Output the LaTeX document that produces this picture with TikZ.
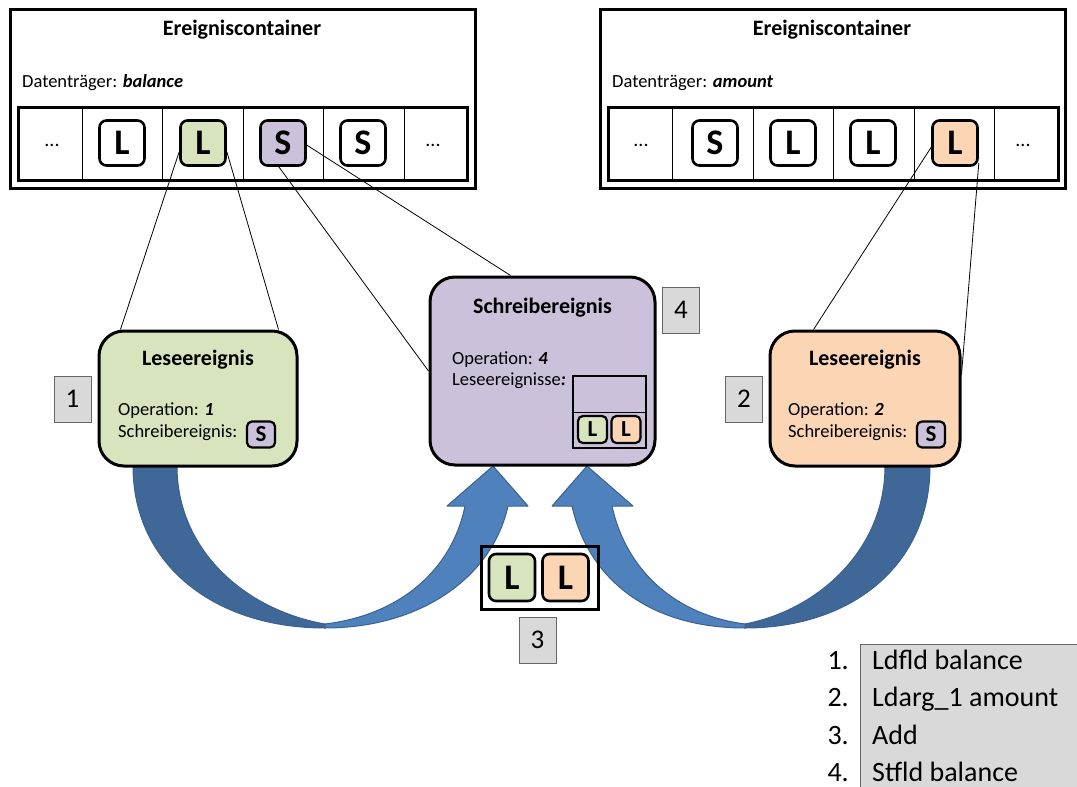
\documentclass[tikz,border=0pt]{standalone}
\usepackage{fontspec}
\setmainfont{Carlito}
\usetikzlibrary{calc}
\definecolor{grn}{HTML}{D7E4BD}
\definecolor{org}{HTML}{FCD5B5}
\definecolor{pur}{HTML}{CCC1DA}
\definecolor{lgray}{HTML}{D9D9D9}
\definecolor{alight}{HTML}{4F81BD}
\definecolor{adark}{HTML}{3F6797}
\definecolor{aline}{HTML}{3A6190}
\tikzset{
  lbl/.style={draw=black!60, fill=lgray, line width=0.8pt, minimum width=37pt, minimum height=46pt, inner sep=0pt, font=\fontsize{27}{27}\selectfont},
  ev/.style={draw, line width=2.6pt, rounded corners=7pt, minimum width=45pt, minimum height=45pt, inner sep=0pt, font=\fontsize{36}{36}\selectfont\bfseries},
  sev/.style={draw, line width=2.2pt, rounded corners=5pt, minimum width=28pt, minimum height=26pt, inner sep=0pt, font=\fontsize{23}{23}\selectfont\bfseries},
  bigbox/.style={draw, line width=3pt, rounded corners=25pt, inner sep=0pt},
  frame/.style={draw, line width=3pt, inner sep=0pt},
  ttl/.style={anchor=base, inner sep=0pt, font=\fontsize{22}{22}\selectfont\bfseries},
  txt/.style={anchor=base west, inner sep=0pt, font=\fontsize{18.5}{18.5}\selectfont},
  dots/.style={inner sep=0pt, font=\fontsize{20}{20}\selectfont},
  leg/.style={inner sep=0pt, font=\fontsize{28}{28}\selectfont},
  conn/.style={line width=0.8pt},
  arr/.style={draw=aline, line width=1pt, line join=round},
}
\begin{document}
\begin{tikzpicture}[x=1pt,y=-1pt]
\useasboundingbox (0,0) rectangle (1077,787);

% ---------- big curved arrows ----------
\path[arr, fill=adark] (133,466) .. controls (133,565) and (215,628) .. (325,628)
   -- (325,624) .. controls (245,610) and (177,550) .. (177,466) -- cycle;
\path[arr, fill=alight] (325,628) .. controls (420,628) and (492,578) .. (508,506)
   -- (528,506) -- (493,466) -- (447,506) -- (465,506)
   .. controls (452,570) and (400,615) .. (325,624) -- cycle;
\path[arr, fill=adark] (930,466) .. controls (930,565) and (852,628) .. (745,628)
   -- (745,624) .. controls (818,610) and (885,550) .. (885,466) -- cycle;
\path[arr, fill=alight] (745,628) .. controls (648,628) and (588,578) .. (572,506)
   -- (552,506) -- (587,466) -- (633,506) -- (612,506)
   .. controls (626,570) and (675,615) .. (745,624) -- cycle;

% ---------- left container ----------
\node[frame, minimum width=465pt, minimum height=179pt] (c1) at (242.5,98.5) {};
\node[ttl] (c1t) at (242,35) {Ereigniscontainer};
\node[txt] (c1d) at (22,87) {Datenträger: \textbf{\textit{balance}}};
\node[frame, minimum width=449pt, minimum height=73pt] (r1) at (242.5,143.5) {};
\foreach \x in {82,162,243,323,404} \draw[line width=0.8pt] (\x,107) -- (\x,180);
\node[dots] (d1a) at (52,145) {...};
\node[ev] (a1) at (122,143) {L};
\node[ev, fill=grn] (gL) at (203,143) {L};
\node[ev, fill=pur] (pS) at (283,143) {S};
\node[ev] (a4) at (363,143) {S};
\node[dots] (d1b) at (433,145) {...};

% ---------- right container ----------
\node[frame, minimum width=465pt, minimum height=179pt] (c2) at (832.5,98.5) {};
\node[ttl] (c2t) at (832,35) {Ereigniscontainer};
\node[txt] (c2d) at (612,87) {Datenträger: \textbf{\textit{amount}}};
\node[frame, minimum width=450pt, minimum height=73pt] (r2) at (833,143.5) {};
\foreach \x in {672,753,833,914,994} \draw[line width=0.8pt] (\x,107) -- (\x,180);
\node[dots] (d2a) at (641,145) {...};
\node[ev] (b1) at (715,143) {S};
\node[ev] (b2) at (793,143) {L};
\node[ev] (b3) at (873,143) {L};
\node[ev, fill=org] (oL) at (955,143) {L};
\node[dots] (d2b) at (1023,145) {...};

% ---------- Leseereignis 1 (green) ----------
\node[bigbox, fill=grn, minimum width=198pt, minimum height=135pt] (le1) at (198,398.5) {};
\node[ttl] (le1t) at (198,365) {Leseereignis};
\node[txt] (le1a) at (118,415) {Operation: \textbf{\textit{1}}};
\node[txt] (le1b) at (118,437) {Schreibereignis:};
\node[sev, fill=pur] (le1s) at (261,434.5) {S};
\node[lbl] (n1) at (72.5,399) {1};

% ---------- Schreibereignis (purple) ----------
\node[bigbox, fill=pur, minimum width=225pt, minimum height=188pt] (sb) at (542.5,371) {};
\node[ttl] (sbt) at (542.5,313) {Schreibereignis};
\node[txt] (sba) at (452,364) {Operation: \textbf{\textit{4}}};
\node[txt] (sbb) at (452,385) {Leseereignisse\textbf{\textit{:}}};
\node[draw, line width=2.6pt, minimum width=73pt, minimum height=72pt, inner sep=0pt] (lst) at (609.5,412) {};
\draw[line width=0.8pt] (lst.west |- 0,412) -- (lst.east |- 0,412);
\node[sev, fill=grn, minimum width=29pt, minimum height=27pt] (lsg) at (592.5,429.5) {L};
\node[sev, fill=org, minimum width=29pt, minimum height=27pt] (lso) at (626,429.5) {L};
\node[lbl] (n4) at (681,310) {4};

% ---------- Leseereignis 2 (orange) ----------
\node[bigbox, fill=org, minimum width=190pt, minimum height=135pt] (le2) at (865,398.5) {};
\node[ttl] (le2t) at (865,365) {Leseereignis};
\node[txt] (le2a) at (788,415) {Operation: \textbf{\textit{2}}};
\node[txt] (le2b) at (788,437) {Schreibereignis:};
\node[sev, fill=pur] (le2s) at (931,434.5) {S};
\node[lbl] (n2) at (744,399) {2};

% ---------- middle LL ----------
\node[frame, minimum width=117pt, minimum height=63pt] (ll) at (539.5,577.5) {};
\node[ev, fill=grn, minimum width=46pt, minimum height=47pt] (llg) at (512,577.5) {L};
\node[ev, fill=org, minimum width=46pt, minimum height=47pt] (llo) at (565.5,577.5) {L};
\node[lbl] (n3) at (537.5,640) {3};

% ---------- connectors ----------
\draw[conn] (gL.200) -- ($(le1.north west)+(23,0)$);
\draw[conn] (gL.-20) -- ($(le1.north east)+(-20,0)$);
\draw[conn] (pS.-100) -- (sb.west);
\draw[conn] (pS.-5) -- ($(sb.north)+(-32,0)$);
\draw[conn] (oL.190) -- ($(le2.north west)+(45,0)$);
\draw[conn] (oL.-40) -- ($(le2.north east)+(0,45)$);

% ---------- legend ----------
\node[draw=black!60, fill=lgray, line width=0.8pt, anchor=north west, minimum width=240pt, minimum height=160pt, inner sep=0pt] (legend) at (860,644) {};
\node[leg, anchor=base east] (l1n) at (849,669) {1.};
\node[leg, anchor=base east] (l2n) at (849,706.5) {2.};
\node[leg, anchor=base east] (l3n) at (849,744) {3.};
\node[leg, anchor=base east] (l4n) at (849,781.5) {4.};
\node[leg, anchor=base west] (l1) at (872,669) {Ldfld balance};
\node[leg, anchor=base west] (l2) at (872,706.5) {Ldarg\_1 amount};
\node[leg, anchor=base west] (l3) at (872,744) {Add};
\node[leg, anchor=base west] (l4) at (872,781.5) {Stfld balance};
\end{tikzpicture}
\end{document}
